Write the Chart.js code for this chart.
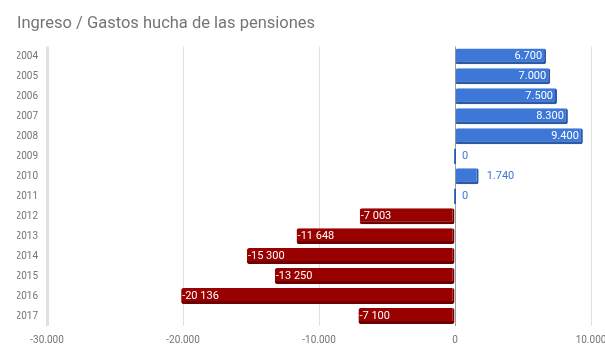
<html>
<head>
<title>Ingreso / Gastos hucha de las pensiones</title>
<script src="https://cdn.jsdelivr.net/npm/chart.js"></script>
<style>
  body { margin: 0; padding: 0; background: #fff; }
  #wrap { width: 605px; height: 364px; }
</style>
</head>
<body>
<div id="wrap"><canvas id="chart"></canvas></div>
<script>
  // data
  const years = ['2004', '2005', '2006', '2007', '2008', '2009', '2010',
                 '2011', '2012', '2013', '2014', '2015', '2016', '2017'];
  const values = [6700, 7000, 7500, 8300, 9400, 0, 1740,
                  0, -7003, -11648, -15300, -13250, -20136, -7100];
  const xTicks = [-30000, -20000, -10000, 0, 10000];

  const BLUE = '#3d78d8', BLUE_DARK = '#2b5aa8';
  const RED = '#990000', RED_DARK = '#6e0000';

  // thousands separator: dot on the axis and positive labels, space on negatives
  function fmt(v, sep) {
    const s = Math.abs(v).toString().replace(/\B(?=(\d{3})+(?!\d))/g, sep);
    return (v < 0 ? '-' : '') + s;
  }

  const valueLabels = {
    id: 'valueLabels',
    afterDatasetsDraw(chart) {
      const ctx = chart.ctx;
      const meta = chart.getDatasetMeta(0);
      ctx.save();
      ctx.font = '11px Roboto';
      ctx.textBaseline = 'middle';
      meta.data.forEach((bar, i) => {
        const v = values[i];
        if (v < 0) {
          ctx.fillStyle = '#fff';
          ctx.textAlign = 'left';
          ctx.fillText(fmt(v, ' '), bar.x + 1, bar.y);
        } else if (v >= 2000) {
          ctx.fillStyle = '#fff';
          ctx.textAlign = 'right';
          ctx.fillText(fmt(v, '.'), bar.x - 4, bar.y);
        } else {
          ctx.fillStyle = BLUE;
          ctx.textAlign = 'left';
          ctx.fillText(fmt(v, '.'), bar.x + 8, bar.y);
        }
      });
      ctx.restore();
    }
  };

  new Chart(document.getElementById('chart'), {
    type: 'bar',
    data: {
      labels: years,
      datasets: [{
        data: values,
        backgroundColor: values.map(v => v < 0 ? RED : BLUE),
        borderColor: values.map(v => v < 0 ? RED_DARK : BLUE_DARK),
        borderWidth: { top: 0, left: 0, bottom: 3, right: 2 },
        borderSkipped: false,
        borderRadius: 2,
        minBarLength: 2,
        categoryPercentage: 1,
        barPercentage: 0.8
      }]
    },
    options: {
      indexAxis: 'y',
      responsive: true,
      maintainAspectRatio: false,
      animation: false,
      layout: { padding: { left: 17, right: 14, top: 0, bottom: 10 } },
      plugins: {
        legend: { display: false },
        tooltip: { enabled: false },
        title: {
          display: true,
          text: 'Ingreso / Gastos hucha de las pensiones',
          align: 'start',
          color: '#757575',
          font: { family: 'Roboto', size: 16.5, weight: 'normal' },
          padding: { top: 14, bottom: 12.6 }
        }
      },
      scales: {
        x: {
          min: -30000,
          max: 10000,
          afterBuildTicks(scale) {
            scale.ticks = xTicks.map(v => ({ value: v }));
          },
          afterFit(scale) {
            scale.paddingLeft = 0;
            scale.paddingRight = 0;
          },
          border: { display: false },
          grid: {
            drawTicks: false,
            color: ctx => ctx.tick && ctx.tick.value === 0 ? '#9e9e9e' : '#e0e0e0',
            lineWidth: ctx => ctx.tick && ctx.tick.value === -30000 ? 3 : 1
          },
          ticks: {
            padding: 8,
            color: '#757575',
            font: { family: 'Roboto', size: 10 },
            maxRotation: 0,
            callback: v => fmt(v, '.')
          }
        },
        y: {
          afterFit(scale) { scale.width = 30; },
          border: { display: false },
          grid: { display: false, drawTicks: false },
          ticks: {
            padding: 9,
            color: '#757575',
            font: { family: 'Roboto', size: 10 }
          }
        }
      }
    },
    plugins: [valueLabels]
  });
</script>
</body>
</html>
